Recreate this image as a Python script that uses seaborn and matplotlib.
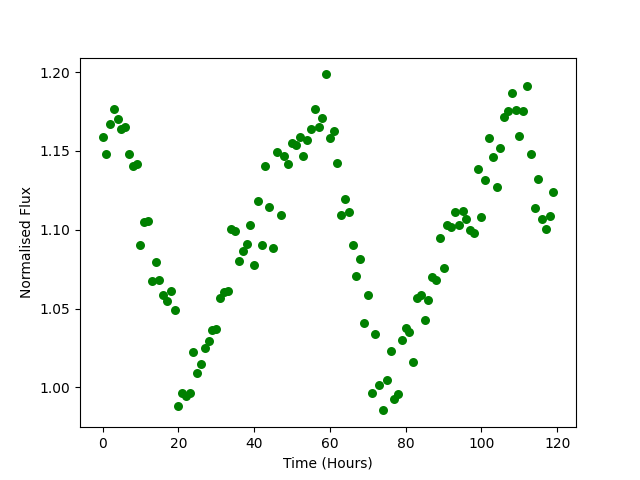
import numpy as np
import matplotlib
matplotlib.use('Agg')
import matplotlib.pyplot as plt
import seaborn as sns

hours = [
    0, 1, 2, 3, 4, 5, 6, 7, 8, 9, 10, 11, 12, 13, 14, 15, 16, 17, 18, 19,
    20, 21, 22, 23, 24, 25, 26, 27, 28, 29, 30, 31, 32, 33, 34, 35, 36, 37, 38, 39,
    40, 41, 42, 43, 44, 45, 46, 47, 48, 49, 50, 51, 52, 53, 54, 55, 56, 57, 58, 59,
    60, 61, 62, 63, 64, 65, 66, 67, 68, 69, 70, 71, 72, 73, 74, 75, 76, 77, 78, 79,
    80, 81, 82, 83, 84, 85, 86, 87, 88, 89, 90, 91, 92, 93, 94, 95, 96, 97, 98, 99,
    100, 101, 102, 103, 104, 105, 106, 107, 108, 109, 110, 111, 112, 113, 114, 115, 116, 117, 118, 119,
]

flux = [
    1.1585, 1.1477, 1.1670, 1.1763, 1.1700, 1.1636, 1.1653, 1.1477, 1.1407, 1.1414,
    1.0906, 1.1052, 1.1058, 1.0677, 1.0798, 1.0684, 1.0588, 1.0550, 1.0614, 1.0493,
    0.9884, 0.9966, 0.9947, 0.9962, 1.0226, 1.0093, 1.0150, 1.0252, 1.0294, 1.0362,
    1.0372, 1.0567, 1.0607, 1.0614, 1.1003, 1.0992, 1.0804, 1.0868, 1.0910, 1.1033,
    1.0773, 1.1185, 1.0906, 1.1407, 1.1141, 1.0887, 1.1492, 1.1096, 1.1465, 1.1418,
    1.1547, 1.1535, 1.1587, 1.1465, 1.1566, 1.1636, 1.1763, 1.1649, 1.1706, 1.1985,
    1.1579, 1.1625, 1.1420, 1.1096, 1.1192, 1.1115, 1.0900, 1.0709, 1.0817, 1.0410,
    1.0588, 0.9962, 1.0341, 1.0012, 0.9854, 1.0049, 1.0233, 0.9926, 0.9960, 1.0298,
    1.0379, 1.0353, 1.0163, 1.0567, 1.0586, 1.0425, 1.0557, 1.0698, 1.0684, 1.0950,
    1.0760, 1.1027, 1.1020, 1.1111, 1.1033, 1.1119, 1.1069, 1.1001, 1.0982, 1.1382,
    1.1079, 1.1314, 1.1579, 1.1458, 1.1274, 1.1516, 1.1716, 1.1752, 1.1865, 1.1759,
    1.1592, 1.1750, 1.1911, 1.1477, 1.1136, 1.1319, 1.1065, 1.1007, 1.1090, 1.1236,
]

fig, ax = plt.subplots(figsize=(6.4, 4.8), dpi=100)
sns.scatterplot(x=hours, y=flux, color='green', s=42, linewidth=0, marker='o', ax=ax)
ax.set_xlabel('Time (Hours)')
ax.set_ylabel('Normalised Flux')
ax.set_xticks([0, 20, 40, 60, 80, 100, 120])
ax.set_yticks([1.00, 1.05, 1.10, 1.15, 1.20])
ax.yaxis.set_major_formatter(matplotlib.ticker.FormatStrFormatter('%.2f'))

plt.savefig('out.png', dpi=100)
